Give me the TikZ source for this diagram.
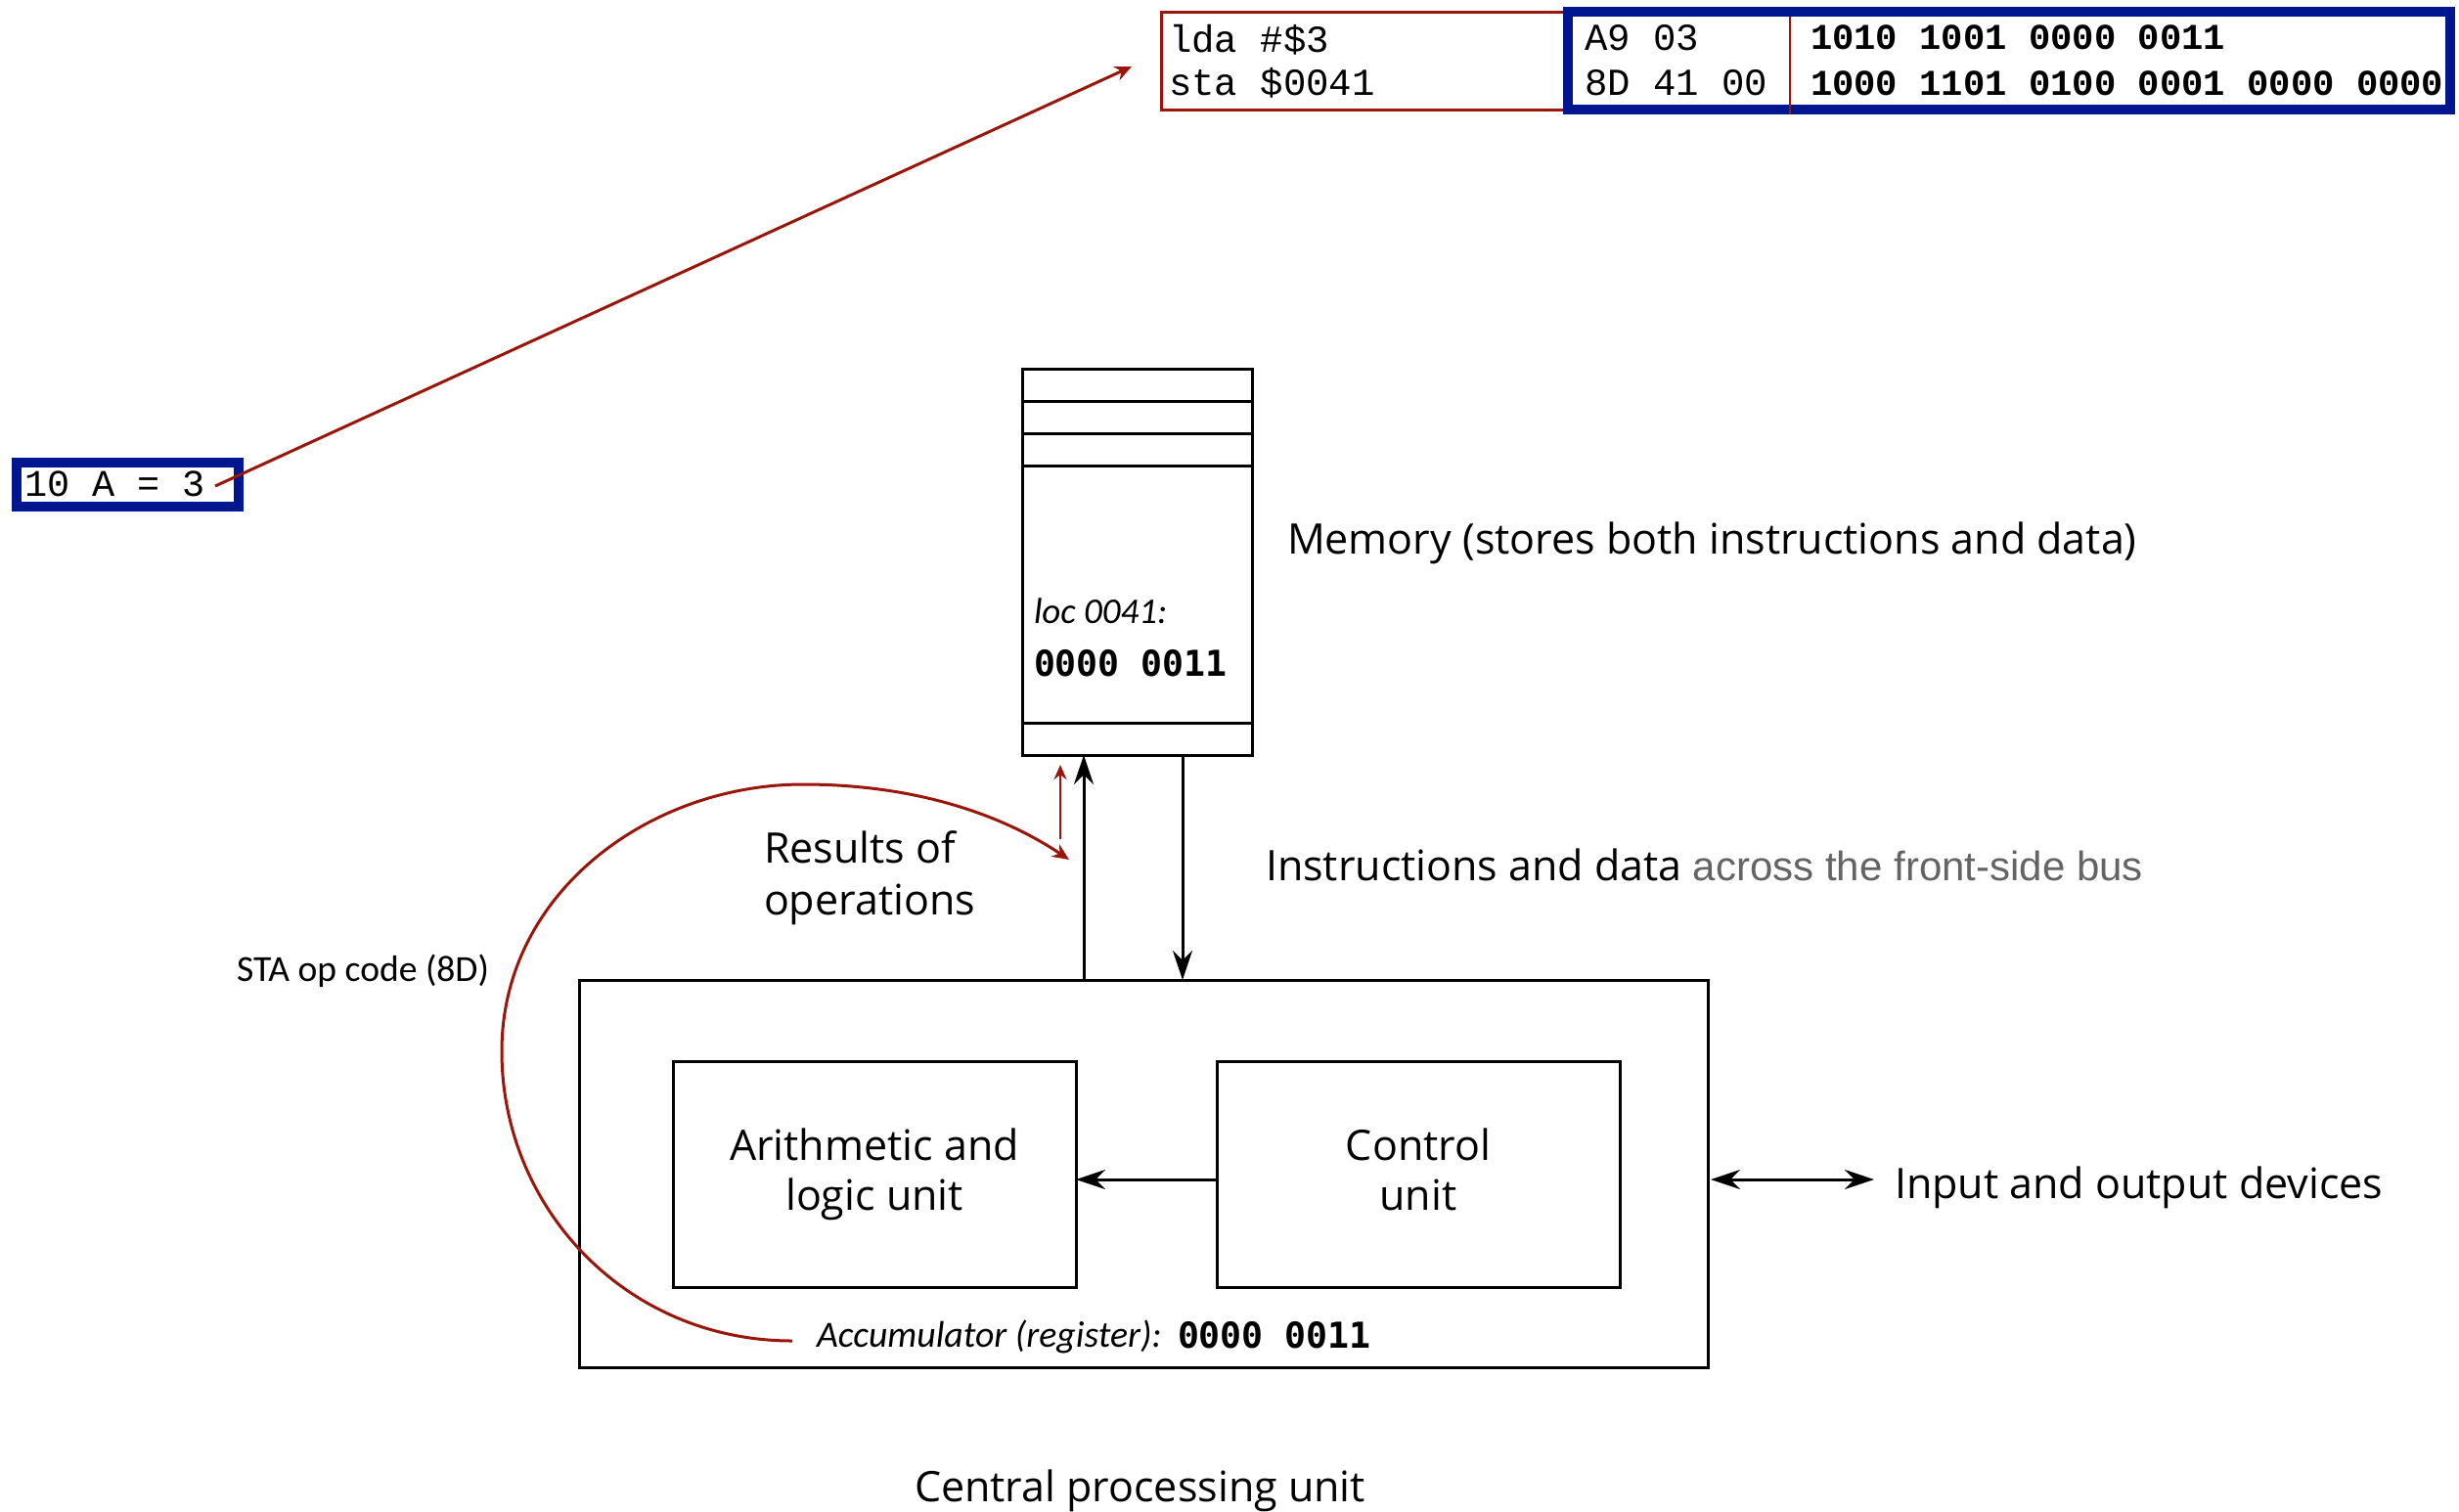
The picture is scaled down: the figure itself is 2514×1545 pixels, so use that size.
\documentclass[tikz,border=0pt]{standalone}
\usepackage{fontspec}
\setmainfont{Open Sans}
\newfontfamily\codefont{Liberation Mono}
\newfontfamily\bitfont{DejaVu Sans Mono}
\newfontfamily\notefont{Carlito}
\newfontfamily\busfont{Liberation Sans}
\usetikzlibrary{arrows.meta}

\definecolor{codered}{RGB}{155,22,10}
\definecolor{codeblue}{RGB}{0,22,145}
\definecolor{busgray}{RGB}{100,100,100}

\begin{document}
\begin{tikzpicture}[x=1pt,y=-1pt,
  every node/.style={inner sep=0pt, outer sep=0pt},
  lbl/.style={font=\fontsize{43}{52}\selectfont, anchor=base west},
  unitbox/.style={draw, line width=3pt, minimum width=412pt, minimum height=231pt,
                  align=center, font=\fontsize{43}{51}\selectfont},
  codetxt/.style={font=\codefont\fontsize{39}{44}\selectfont, anchor=base west},
  bintxt/.style={font=\codefont\bfseries\fontsize{37.2}{44}\selectfont, anchor=base west},
  regtxt/.style={font=\bitfont\bfseries\fontsize{36.5}{44}\selectfont, anchor=base west},
  notetxt/.style={font=\notefont\fontsize{37.6}{44}\selectfont, anchor=base west},
  blk/.style={line width=3pt, -{Stealth[length=30pt,width=20pt]}},
  redarrow/.style={codered, line width=3pt, -{Stealth[length=17pt,width=15pt]}},
]
\useasboundingbox (0,0) rectangle (2514,1545);

% ---- assembly / machine code strip ----
\node[draw=codered, line width=3pt, minimum width=416pt, minimum height=100pt]
  (codebox) at (1395,62) {};
\node[draw=codeblue, fill=white, line width=10pt, minimum width=902pt, minimum height=100pt]
  (hexbox) at (2054,62) {};
\coordinate (divx) at (1830,0);
\draw[codered, line width=2pt] (hexbox.north -| divx) ++(0,5) -- ([yshift=-5pt]hexbox.south -| divx);

\node[codetxt] (lda) at (1195,53) {lda \#\$3};
\node[codetxt] (sta) at (1195,97) {sta \$0041};
\node[codetxt] (hexa) at (1620,51) {A9 03};
\node[codetxt] (hexb) at (1620,97) {8D 41 00};
\node[bintxt] (bina) at (1851,50) {1010 1001 0000 0011};
\node[bintxt] (binb) at (1851,97) {1000 1101 0100 0001 0000 0000};

% ---- BASIC source line ----
\node[draw=codeblue, line width=10pt, minimum width=227pt, minimum height=45pt]
  (srcbox) at (130.5,495.5) {};
\node[codetxt, font=\codefont\fontsize{38.5}{44}\selectfont] (srctxt) at (25,507) {10 A = 3};
\coordinate (srcpt) at (220,497);
\coordinate (dstpt) at (1157,68);
\draw[redarrow] (srcpt) -- (dstpt);

% ---- memory ----
\node[draw, line width=3pt, minimum width=235pt, minimum height=395pt] (mem) at (1162.5,574.5) {};
\foreach \yy in {410,443,476,739}
  \draw[line width=3pt] (mem.west |- 0,\yy) -- (mem.east |- 0,\yy);
\node[notetxt, font=\notefont\itshape\fontsize{37}{44}\selectfont] (loc) at (1057,637) {loc 0041:};
\node[regtxt] (locval) at (1057,691) {0000 0011};
\node[lbl] (memlbl) at (1316,566) {Memory (stores both instructions and data)};

% ---- CPU ----
\node[draw, line width=3pt, minimum width=1154pt, minimum height=396pt] (cpu) at (1169,1200) {};
\node[unitbox] (alu) at (894,1200.5) {Arithmetic and\\logic unit};
\node[unitbox] (ctrl) at (1450,1200.5) {Control\\unit\vphantom{g}};
\node[lbl] (cpulbl) at (935,1535) {Central processing unit};

\node[notetxt, font=\notefont\itshape\fontsize{37.8}{44}\selectfont] (acc) at (835,1377) {Accumulator (register):};
\node[regtxt] (accval) at (1204,1378) {0000 0011};

% ---- buses ----
\coordinate (upx) at (1108,0);
\coordinate (downx) at (1209,0);
\coordinate (row) at (0,1206);
\draw[blk] (cpu.north -| upx) -- (mem.south -| upx);
\draw[blk] (mem.south -| downx) -- (cpu.north -| downx);
\draw[blk] (ctrl.west |- row) -- (alu.east |- row);

\node[lbl] (io) at (1937,1225) {Input and output devices};
\coordinate (ioend) at (1916,1206);
\draw[line width=3pt, {Stealth[length=30pt,width=20pt]}-{Stealth[length=30pt,width=20pt]}]
  ([xshift=3pt]cpu.east |- row) -- (ioend);

\node[lbl] (bus) at (1294,900) {Instructions and data {\busfont\fontsize{42}{52}\selectfont\color{busgray}across the front-side bus}};

\node[lbl] (res1) at (781,882) {Results of};
\node[lbl] (res2) at (781,935) {operations};
\node[notetxt] (sta8d) at (242,1003) {STA op code (8D)};

% ---- store path: accumulator back to memory ----
\coordinate (curvestart) at (810,1371);
\coordinate (curveend) at (1093,879);
\draw[redarrow] (curvestart)
  .. controls (640,1371) and (513,1235) .. (513,1075)
  .. controls (513,912) and (665,802) .. (821,802)
  .. controls (930,802) and (1020,830) .. (curveend);
\coordinate (storefrom) at (1084,858);
\coordinate (storeto) at (1084,782);
\draw[redarrow, line width=2.5pt, -{Stealth[length=15pt,width=13pt]}] (storefrom) -- (storeto);
\end{tikzpicture}
\end{document}
